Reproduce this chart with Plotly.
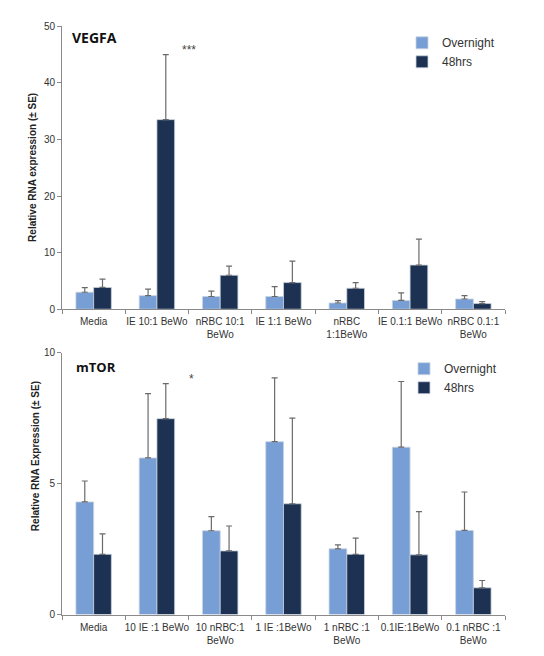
import plotly.graph_objects as go

# ---- data ----
cats_top = ["Media", "IE 10:1 BeWo", "nRBC 10:1<br>BeWo", "IE 1:1 BeWo",
            "nRBC<br>1:1BeWo", "IE 0.1:1 BeWo", "nRBC 0.1:1<br>BeWo"]
vegfa_overnight = [3.0, 2.4, 2.25, 2.25, 1.1, 1.55, 1.8]
vegfa_overnight_se = [0.8, 1.15, 0.95, 1.75, 0.4, 1.35, 0.6]
vegfa_48hrs = [3.85, 33.5, 6.0, 4.7, 3.7, 7.8, 1.0]
vegfa_48hrs_se = [1.45, 11.5, 1.6, 3.8, 1.0, 4.6, 0.35]

cats_bot = ["Media", "10 IE :1 BeWo", "10 nRBC:1<br>BeWo", "1 IE :1BeWo",
            "1 nRBC :1<br>BeWo", "0.1IE:1BeWo", "0.1 nRBC :1<br>BeWo"]
mtor_overnight = [4.3, 5.98, 3.2, 6.6, 2.51, 6.39, 3.21]
mtor_overnight_se = [0.8, 2.46, 0.54, 2.44, 0.15, 2.51, 1.47]
mtor_48hrs = [2.3, 7.48, 2.43, 4.23, 2.3, 2.28, 1.02]
mtor_48hrs_se = [0.78, 1.34, 0.95, 3.27, 0.62, 1.65, 0.28]

C_OV = "#779FD6"
C_48 = "#1D3252"
ERR = "#6a6a6a"
W, H = 544, 656
FAM = "Liberation Sans"

def py(p):
    # map a target on-screen pixel row to paper coordinate (compensating page offset)
    f = (p - 6.8) / 0.979
    return 1 - f / H

fig = go.Figure()

def add(cats, vals, se, name, color, xa, ya, leg):
    fig.add_trace(go.Bar(
        x=cats, y=vals, name=name, marker=dict(color=color, line=dict(color="#c9d3e0", width=0.8)),
        error_y=dict(type="data", symmetric=False, array=se, arrayminus=[0]*len(se),
                     color=ERR, thickness=1.2, width=3),
        xaxis=xa, yaxis=ya, legend=leg, showlegend=True))

add(cats_top, vegfa_overnight, vegfa_overnight_se, "Overnight", C_OV, "x", "y", "legend")
add(cats_top, vegfa_48hrs, vegfa_48hrs_se, "48hrs", C_48, "x", "y", "legend")
add(cats_bot, mtor_overnight, mtor_overnight_se, "Overnight", C_OV, "x2", "y2", "legend2")
add(cats_bot, mtor_48hrs, mtor_48hrs_se, "48hrs", C_48, "x2", "y2", "legend2")

font = dict(family=FAM, size=10, color="#333333")
xd = [62 / W, 505 / W]
axcommon = dict(showgrid=False, zeroline=False, showline=True, linecolor="#8a8a8a",
                linewidth=1, ticks="outside", tickcolor="#8a8a8a", ticklen=4,
                tickfont=font)
legfont = dict(family=FAM, size=12, color="#333")

fig.update_layout(
    width=W, height=H, margin=dict(l=0, r=0, t=0, b=0),
    paper_bgcolor="white", plot_bgcolor="white",
    barmode="group", bargap=0.44, bargroupgap=0,
    font=font,
    xaxis=dict(domain=xd, anchor="y", type="category", tickson="boundaries", tickangle=0,
               ticklabelstandoff=3, **axcommon),
    yaxis=dict(domain=[py(308.7), py(27)], anchor="x", range=[0, 50], tickvals=[0, 10, 20, 30, 40, 50],
               **axcommon),
    xaxis2=dict(domain=xd, anchor="y2", type="category", tickson="boundaries", tickangle=0,
                ticklabelstandoff=3, **axcommon),
    yaxis2=dict(domain=[py(612.7), py(352)], anchor="x2", range=[0, 10], tickvals=[0, 5, 10],
                **axcommon),
    legend=dict(x=402 / W, y=py(29), xanchor="left", yanchor="top", bgcolor="rgba(0,0,0,0)",
                font=legfont, itemwidth=30, tracegroupgap=2),
    legend2=dict(x=404 / W, y=py(353.5), xanchor="left", yanchor="top", bgcolor="rgba(0,0,0,0)",
                 font=legfont, itemwidth=30, tracegroupgap=2),
)

fig.add_annotation(x=33 / W, y=py(168), xref="paper", yref="paper",
                   text="<b>Relative RNA expression (± SE)</b>", textangle=-90,
                   showarrow=False, xanchor="center", yanchor="middle",
                   font=dict(family=FAM, size=10, color="#222"))
fig.add_annotation(x=35 / W, y=py(455), xref="paper", yref="paper",
                   text="<b>Relative RNA Expression (± SE)</b>", textangle=-90,
                   showarrow=False, xanchor="center", yanchor="middle",
                   font=dict(family=FAM, size=10, color="#222"))
fig.add_annotation(x=70 / W, y=py(38), xref="paper", yref="paper", text="<b>VEGFA</b>",
                   showarrow=False, xanchor="left", yanchor="middle",
                   font=dict(family="Open Sans", size=14, color="#111"))
fig.add_annotation(x=74 / W, y=py(366), xref="paper", yref="paper", text="<b>mTOR</b>",
                   showarrow=False, xanchor="left", yanchor="middle",
                   font=dict(family="Open Sans", size=13, color="#111"))
fig.add_annotation(x=189 / W, y=py(51), xref="paper", yref="paper", text="***",
                   showarrow=False, xanchor="center", yanchor="middle",
                   font=dict(family=FAM, size=12, color="#444"))
fig.add_annotation(x=191 / W, y=py(378), xref="paper", yref="paper", text="*",
                   showarrow=False, xanchor="center", yanchor="middle",
                   font=dict(family=FAM, size=12, color="#444"))

fig.write_html("out.html")
